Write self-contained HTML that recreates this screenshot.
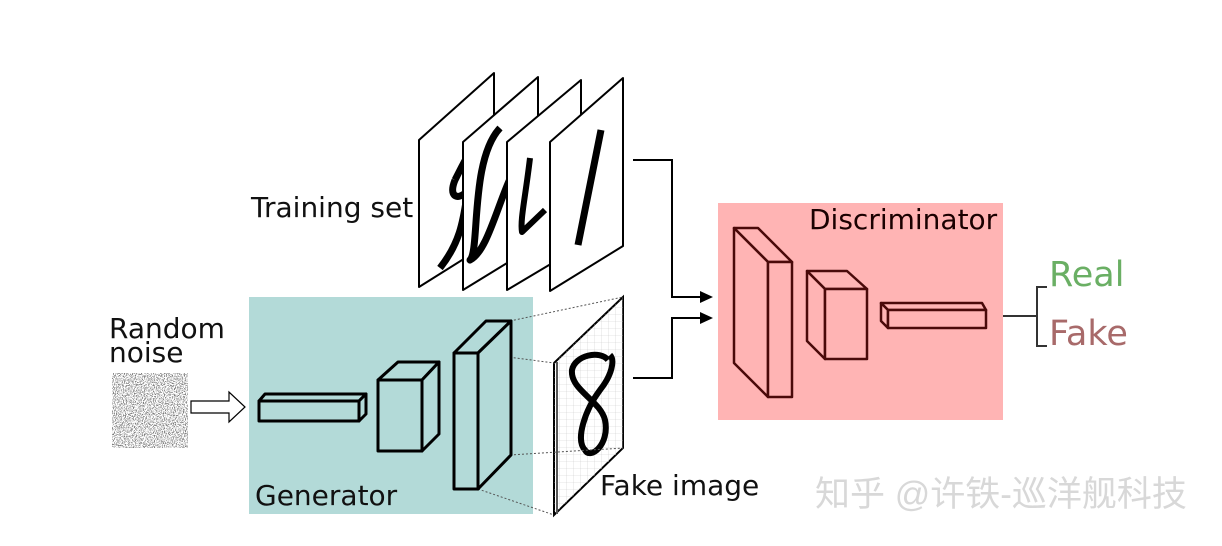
<!DOCTYPE html>
<html><head><meta charset="utf-8"><style>
html,body{margin:0;padding:0;background:#fff}
svg{display:block}
text{font-family:"DejaVu Sans","Liberation Sans",sans-serif}
</style></head><body>
<svg width="1222" height="546" viewBox="0 0 1222 546" xmlns="http://www.w3.org/2000/svg">
<defs>
<filter id="nz" x="0" y="0" width="100%" height="100%">
<feTurbulence type="fractalNoise" baseFrequency="0.9" numOctaves="2" seed="3"/>
<feColorMatrix type="matrix" values="0 0 0 0 0.2  0 0 0 0 0.2  0 0 0 0 0.2  -7 0 0 0 3.6"/>
</filter>
<pattern id="grid" width="7" height="7" patternUnits="userSpaceOnUse">
<path d="M7 0V7H0" fill="none" stroke="#ccc" stroke-width="0.6"/>
</pattern>
</defs>
<rect width="1222" height="546" fill="#fff"/>
<rect x="249" y="297" width="284" height="217" fill="#b3dad8"/>
<rect x="718" y="203" width="285" height="217" fill="#ffb4b4"/>

<g stroke="#000" stroke-width="2" fill="#fff" stroke-linejoin="round">
<polygon points="419,140 494,73 494,240 419,287"/>
<path d="M455,180 C470,150 482,128 475,158 C462,200 470,230 440,268 M455,180 C445,205 470,200 475,175" stroke-width="7" fill="none"/>
<polygon points="463,142 538,77 538,244 463,290"/>
<path d="M500,128 C470,160 480,250 470,260 C490,250 500,190 520,160" stroke-width="7" fill="none"/>
<polygon points="507,142 581,80 581,246 507,290"/>
<path d="M530,158 C525,200 520,220 522,232 L545,210" stroke-width="6" fill="none"/>
<polygon points="550,142 623,78 623,246 550,291"/>
<path d="M601,130 C595,160 585,210 578,245" stroke-width="7" fill="none"/>
</g>

<polygon points="554,363 623,297 623,448 554,515" fill="#fff" stroke="#000" stroke-width="2"/>
<polygon points="554,363 623,297 623,448 554,515" fill="url(#grid)"/>
<line x1="557" y1="362" x2="557" y2="514" stroke="#555" stroke-width="2"/>
<path d="M608,360 C600,350 575,355 572,370 C570,390 600,400 605,420 C610,445 590,460 585,450 C575,440 585,410 600,390 C612,375 615,360 610,355" stroke="#000" stroke-width="6" fill="none"/>

<g stroke="#555" stroke-width="1" stroke-dasharray="2,2">
<line x1="510" y1="321" x2="623" y2="297"/>
<line x1="478" y1="353" x2="554" y2="363"/>
<line x1="510" y1="455" x2="623" y2="448"/>
<line x1="478" y1="489" x2="554" y2="515"/>
</g>

<g stroke="#000" stroke-width="3" fill="#b3dad8" stroke-linejoin="round">
<polygon points="259,401 265,394 366,394 359,401"/>
<polygon points="359,401 366,394 366,414 359,421"/>
<rect x="259" y="401" width="100" height="20"/>
<polygon points="378,380 398,362 439,362 422,380"/>
<polygon points="422,380 439,362 439,434 422,451"/>
<rect x="378" y="380" width="44" height="71"/>
<polygon points="454,353 486,321 511,321 478,353"/>
<polygon points="478,353 511,321 511,455 478,489"/>
<rect x="454" y="353" width="24" height="136"/>
</g>

<g stroke="#4a0a0a" stroke-width="2.5" fill="#ffb4b4" stroke-linejoin="round">
<polygon points="734,228 758,228 792,262 768,262"/>
<polygon points="734,228 768,262 768,397 734,363"/>
<rect x="768" y="262" width="24" height="135"/>
<polygon points="807,271 847,271 867,289 825,289"/>
<polygon points="807,271 825,289 825,359 807,341"/>
<rect x="825" y="289" width="42" height="70"/>
<polygon points="881,303 982,303 986,310 888,310"/>
<polygon points="881,303 888,310 888,328 881,321"/>
<rect x="888" y="310" width="98" height="18"/>
</g>

<g stroke="#000" stroke-width="2" fill="none">
<polyline points="633,160 672,160 672,297 702,297"/>
<polyline points="633,378 672,378 672,318 702,318"/>
</g>
<polygon points="700,291 713,297 700,303" fill="#000"/>
<polygon points="700,312 713,318 700,324" fill="#000"/>

<g stroke="#333" stroke-width="2" fill="none">
<line x1="1003" y1="316" x2="1037" y2="316"/>
<polyline points="1047,287 1037,287 1037,346 1047,346"/>
</g>

<rect x="112" y="373" width="76" height="75" fill="#fff"/>
<rect x="112" y="373" width="76" height="75" filter="url(#nz)"/>
<polygon points="191,401 229,401 229,392 245,407 229,422 229,413 191,413" fill="#fff" stroke="#000" stroke-width="1.2"/>

<g font-size="28" fill="#111">
<text x="251" y="217">Training set</text>
<text x="109" y="338">Random</text>
<text x="109" y="362">noise</text>
<text x="255" y="505">Generator</text>
<text x="600" y="495">Fake image</text>
<text x="809" y="229" fill="#1a0000">Discriminator</text>
</g>
<text x="1049" y="286" font-size="35" fill="#6aaf64">Real</text>
<text x="1049" y="345" font-size="35" fill="#a86a6a">Fake</text>
<text x="815" y="506" font-size="35" fill="#d8d8d8" style='font-family:"Liberation Sans","Noto Sans CJK SC",sans-serif'>知乎 @许铁-巡洋舰科技</text>
</svg>
</body></html>
